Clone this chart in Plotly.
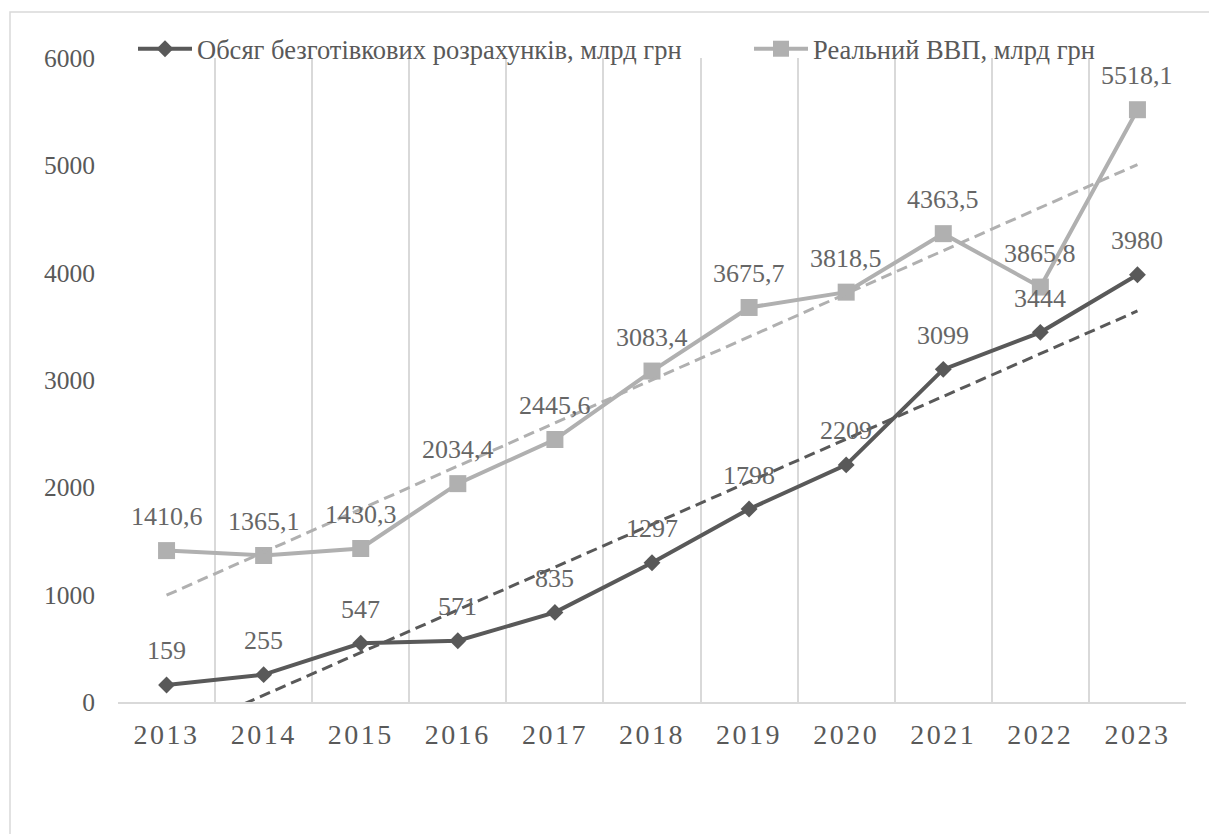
import numpy as np
import plotly.graph_objects as go

years = ["2013", "2014", "2015", "2016", "2017", "2018", "2019", "2020", "2021", "2022", "2023"]
cashless = [159, 255, 547, 571, 835, 1297, 1798, 2209, 3099, 3444, 3980]
gdp = [1410.6, 1365.1, 1430.3, 2034.4, 2445.6, 3083.4, 3675.7, 3818.5, 4363.5, 3865.8, 5518.1]
cashless_labels = ["159", "255", "547", "571", "835", "1297", "1798", "2209", "3099", "3444", "3980"]
gdp_labels = ["1410,6", "1365,1", "1430,3", "2034,4", "2445,6", "3083,4", "3675,7", "3818,5", "4363,5", "3865,8", "5518,1"]
name1 = "Обсяг безготівкових розрахунків, млрд грн"
name2 = "Реальний ВВП, млрд грн"

DARK = "#595959"
LIGHT = "#b0b0b0"
LABEL = "#666666"
GRID = "#d9d9d9"
FONT = "Liberation Serif"

W, H = 1209, 834
L, R, T, B = 118, 23, 58, 132
PW, PH = W - L - R, H - T - B


def px_x(p):
    return (p - L) / PW


def px_y(p):
    return 1 - (p - T) / PH


def trend(vals):
    x = np.arange(len(vals))
    k, b = np.polyfit(x, vals, 1)
    return list(k * x + b)


fig = go.Figure()
fig.add_trace(go.Scatter(x=years, y=cashless, name=name1, mode="lines+markers",
                         line=dict(color=DARK, width=4),
                         marker=dict(symbol="diamond", size=13, color=DARK),
                         legend="legend"))
fig.add_trace(go.Scatter(x=years, y=gdp, name=name2, mode="lines+markers",
                         line=dict(color=LIGHT, width=4),
                         marker=dict(symbol="square", size=17, color=LIGHT),
                         legend="legend2"))
fig.add_trace(go.Scatter(x=years, y=trend(cashless), mode="lines", showlegend=False,
                         line=dict(color=DARK, width=3, dash="11px,6px"), hoverinfo="skip"))
fig.add_trace(go.Scatter(x=years, y=trend(gdp), mode="lines", showlegend=False,
                         line=dict(color=LIGHT, width=3, dash="11px,6px"), hoverinfo="skip"))

annotations = []
for ys, ls in [(cashless, cashless_labels), (gdp, gdp_labels)]:
    for i, (y, t) in enumerate(zip(ys, ls)):
        annotations.append(dict(x=i, y=y, xref="x", yref="y", text=t, showarrow=False,
                                yshift=34, xanchor="center", yanchor="middle",
                                font=dict(family=FONT, size=26, color=LABEL)))

legend_common = dict(orientation="h", yanchor="middle", xanchor="left",
                     bgcolor="rgba(0,0,0,0)", borderwidth=0, itemwidth=54,
                     font=dict(family=FONT, size=26.5, color=DARK))

fig.update_layout(
    width=W, height=H,
    margin=dict(l=L, r=R, t=T, b=B, autoexpand=False),
    paper_bgcolor="white", plot_bgcolor="white",
    font=dict(family=FONT, size=26, color=DARK),
    showlegend=True,
    legend=dict(x=px_x(133), y=px_y(49), **legend_common),
    legend2=dict(x=px_x(749), y=px_y(49), **legend_common),
    annotations=annotations,
    shapes=[dict(type="rect", xref="paper", yref="paper",
                 x0=px_x(10), x1=px_x(1230), y0=px_y(860), y1=px_y(12),
                 line=dict(color=GRID, width=1.5), layer="below")],
)
fig.update_xaxes(type="category", tickson="boundaries", showgrid=True, gridcolor=GRID,
                 gridwidth=1.5, showline=True, linecolor=GRID, linewidth=1.5,
                 ticks="", ticklabelstandoff=7, tickfont=dict(family=FONT, size=28, color=DARK),
                 range=[-0.5, 10.5], zeroline=False, automargin=False)
fig.update_yaxes(range=[0, 6000], dtick=1000, showgrid=False, zeroline=False, showline=False,
                 ticks="", ticklabelstandoff=22, tickfont=dict(family=FONT, size=25.5, color=DARK),
                 automargin=False)

post = """
document.body.style.margin='0';
document.documentElement.style.overflow='hidden';
function sp(){document.querySelectorAll('.xtick text').forEach(function(t){t.style.letterSpacing='2.5px';});}
sp(); setTimeout(sp, 200); setTimeout(sp, 800);
"""
fig.write_html("out.html", post_script=post, config={"displayModeBar": False})
